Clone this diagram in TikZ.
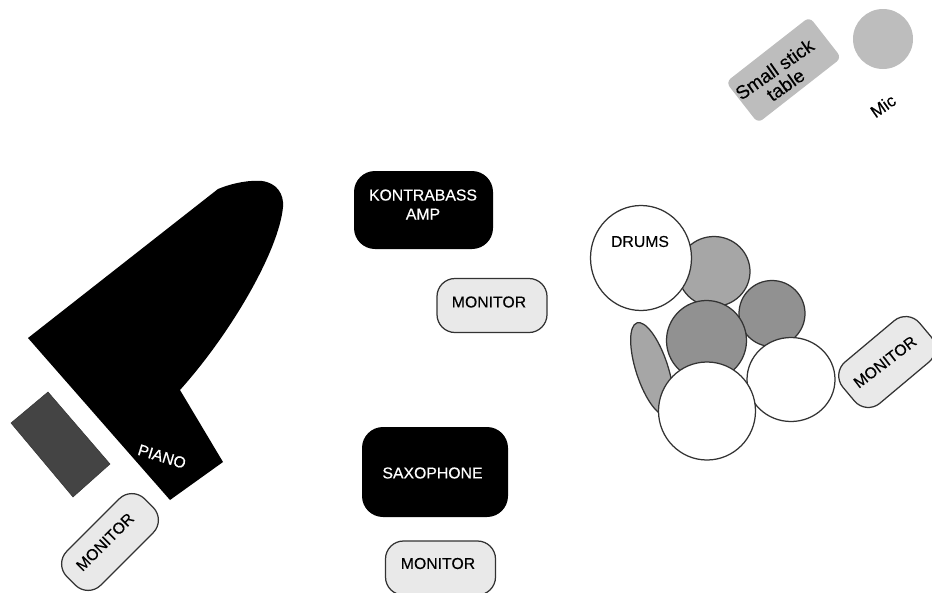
\documentclass[tikz,border=0pt]{standalone}
\usepackage{fontspec}
\setmainfont{Liberation Sans}
\usetikzlibrary{shapes.geometric}
\definecolor{edge}{HTML}{333333}
\definecolor{monfill}{HTML}{E9E9E9}
\definecolor{tablegray}{HTML}{BDBDBD}
\definecolor{drumlight}{HTML}{A6A6A6}
\definecolor{drumdark}{HTML}{919191}
\definecolor{benchgray}{HTML}{444444}
\newfontfamily\whitebold[FakeBold=0.45]{Liberation Sans}
\newfontfamily\blackbold[FakeBold=0.15]{Liberation Sans}
\tikzset{
  lbl/.style={font=\blackbold\fontsize{15.8}{19}\selectfont,inner sep=0pt,align=center,text=black},
  wlbl/.style={inner sep=0pt,align=center,text=white,font=\whitebold\fontsize{15.8}{19}\selectfont},
  monitorbox/.style={rectangle,draw=edge,fill=monfill,line width=1.25pt,rounded corners=18pt,minimum width=110pt,minimum height=54pt,inner sep=0pt},
  blackbox/.style={rectangle,fill=black,rounded corners=21pt,inner sep=0pt},
  drum/.style={ellipse,draw=edge,line width=1.25pt,inner sep=0pt,fill=white}
}
\begin{document}
\begin{tikzpicture}[x=1pt,y=-1pt]
\useasboundingbox (0,0) rectangle (932,592);
% piano
\fill[black] (28,338) -- (218,189) .. controls (235,182) and (252,180) .. (262,181)
  .. controls (277,183) and (284,194) .. (283,207)
  .. controls (279,250) and (232,332) .. (180,390)
  -- (223,462) -- (170,500) -- cycle;
\node[wlbl,rotate=-17] (pianolabel) at (162,456.5) {PIANO};
\fill[benchgray,draw=edge,line width=.5pt] (48,392) -- (11,423) -- (73,497) -- (110,464) -- cycle;
\node[monitorbox,rotate=45,minimum width=110pt,minimum height=48pt] (monpiano) at (110,542) {};
\node[lbl,rotate=45] (monpianolabel) at (105,542) {MONITOR};
% centre
\node[blackbox,minimum width=139pt,minimum height=78pt] (kontra) at (423.5,210) {};
\node[wlbl] (kontralabel) at (423,204.5) {KONTRABASS\\AMP};
\node[monitorbox] (montop) at (492,305.5) {};
\node[lbl] (montoplabel) at (489,302) {MONITOR};
\node[blackbox,minimum width=146pt,minimum height=90pt] (sax) at (435,472) {};
\node[wlbl] (saxlabel) at (432.5,473) {SAXOPHONE};
\node[monitorbox] (monbottom) at (440.5,568) {};
\node[lbl] (monbottomlabel) at (438,563.5) {MONITOR};
% drums
\node[drum,fill=drumlight,rotate=-72,minimum width=97pt,minimum height=32pt] (cymbal) at (652,369) {};
\node[drum,fill=drumlight,minimum width=72pt,minimum height=70pt] (tomone) at (714,271.5) {};
\node[drum,fill=drumdark,minimum width=66pt,minimum height=66pt] (tomtwo) at (772,313.5) {};
\node[drum,fill=drumdark,minimum width=80pt,minimum height=80pt] (snare) at (706.5,340.5) {};
\node[drum,minimum width=88pt,minimum height=84pt] (floortom) at (791,379.5) {};
\node[drum,minimum width=97pt,minimum height=98pt] (kick) at (707,411) {};
\node[drum,minimum width=101pt,minimum height=105pt] (drumsmain) at (641,258) {};
\node[lbl] (drumslabel) at (640,241.5) {DRUMS};
\node[monitorbox,rotate=40,minimum width=100pt,minimum height=54pt] (monright) at (887,362) {};
\node[lbl,rotate=37.5] (monrightlabel) at (885,362) {MONITOR};
% top right
\node[rectangle,fill=tablegray,rounded corners=6pt,rotate=38,minimum width=106pt,minimum height=52pt,inner sep=0pt] (table) at (783.7,70) {};
\node[rotate=35,inner sep=0pt,align=center,font=\blackbold\fontsize{19}{19}\selectfont] (tablelabel) at (780,77) {Small stick\\table};
\node[circle,fill=tablegray,minimum size=60pt,inner sep=0pt] (mic) at (883,39) {};
\node[lbl,rotate=35,font=\blackbold\fontsize{17}{18}\selectfont] (miclabel) at (883,106) {Mic};
\end{tikzpicture}
\end{document}
